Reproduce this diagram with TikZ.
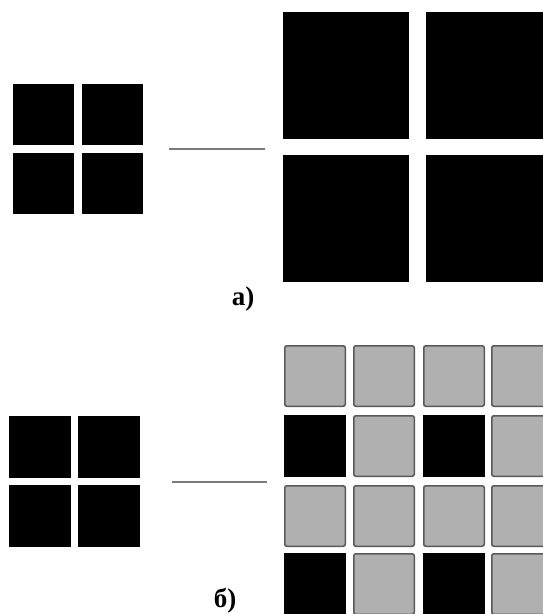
\documentclass[tikz,border=0pt]{standalone}
\usepackage{fontspec}
\setmainfont{Liberation Serif}
\begin{document}
\begin{tikzpicture}[x=1pt,y=-1pt,
  blk/.style={draw=none,fill=black,inner sep=0pt,outer sep=0pt},
  gry/.style={draw=black!65,line width=1.5pt,fill=black!31,rounded corners=2pt,inner sep=0pt,outer sep=0pt},
  link/.style={draw=black!52,line width=2pt},
  lbl/.style={font=\bfseries\fontsize{27}{30}\selectfont,inner sep=0pt}]
\useasboundingbox (0,0) rectangle (543,614);
\clip (0,0) rectangle (543,614);
% ---- a) small grid
\foreach \i/\x in {1/13,2/82}{
  \foreach \j/\y in {1/84,2/153}{
    \node[blk,minimum width=61pt,minimum height=61pt,anchor=north west] (as\j\i) at (\x,\y) {};
  }}
% ---- a) large grid
\foreach \i/\x in {1/283,2/426}{
  \foreach \j/\y in {1/12,2/155}{
    \node[blk,minimum width=126pt,minimum height=127pt,anchor=north west] (al\j\i) at (\x,\y) {};
  }}
\coordinate (aL) at (169,149);
\coordinate (aR) at (265,149);
\draw[link] (aL) -- (aR);
\node[lbl] (la) at (243,299) {а)};
% ---- b) small grid
\foreach \i/\x in {1/9,2/78}{
  \foreach \j/\y in {1/416,2/485}{
    \node[blk,minimum width=62pt,minimum height=62pt,anchor=north west] (bs\j\i) at (\x,\y) {};
  }}
% ---- b) large grid
\foreach \i/\x in {1/284,2/353,3/423,4/491}{
  \foreach \j/\y in {1/345,2/415,3/485,4/553}{
    \pgfmathtruncatemacro{\isblack}{(mod(\j,2)==0 && mod(\i,2)==1) ? 1 : 0}
    \ifnum\isblack=1
      \node[blk,minimum width=62pt,minimum height=62pt,anchor=north west] (bl\j\i) at (\x,\y) {};
    \else
      \node[gry,minimum width=60.5pt,minimum height=60.5pt,anchor=north west] (bl\j\i) at (\x+0.75,\y+0.75) {};
    \fi
  }}
\coordinate (bL) at (172,482);
\coordinate (bR) at (267,482);
\draw[link] (bL) -- (bR);
\node[lbl] (lb) at (225,601) {б)};
\end{tikzpicture}
\end{document}
